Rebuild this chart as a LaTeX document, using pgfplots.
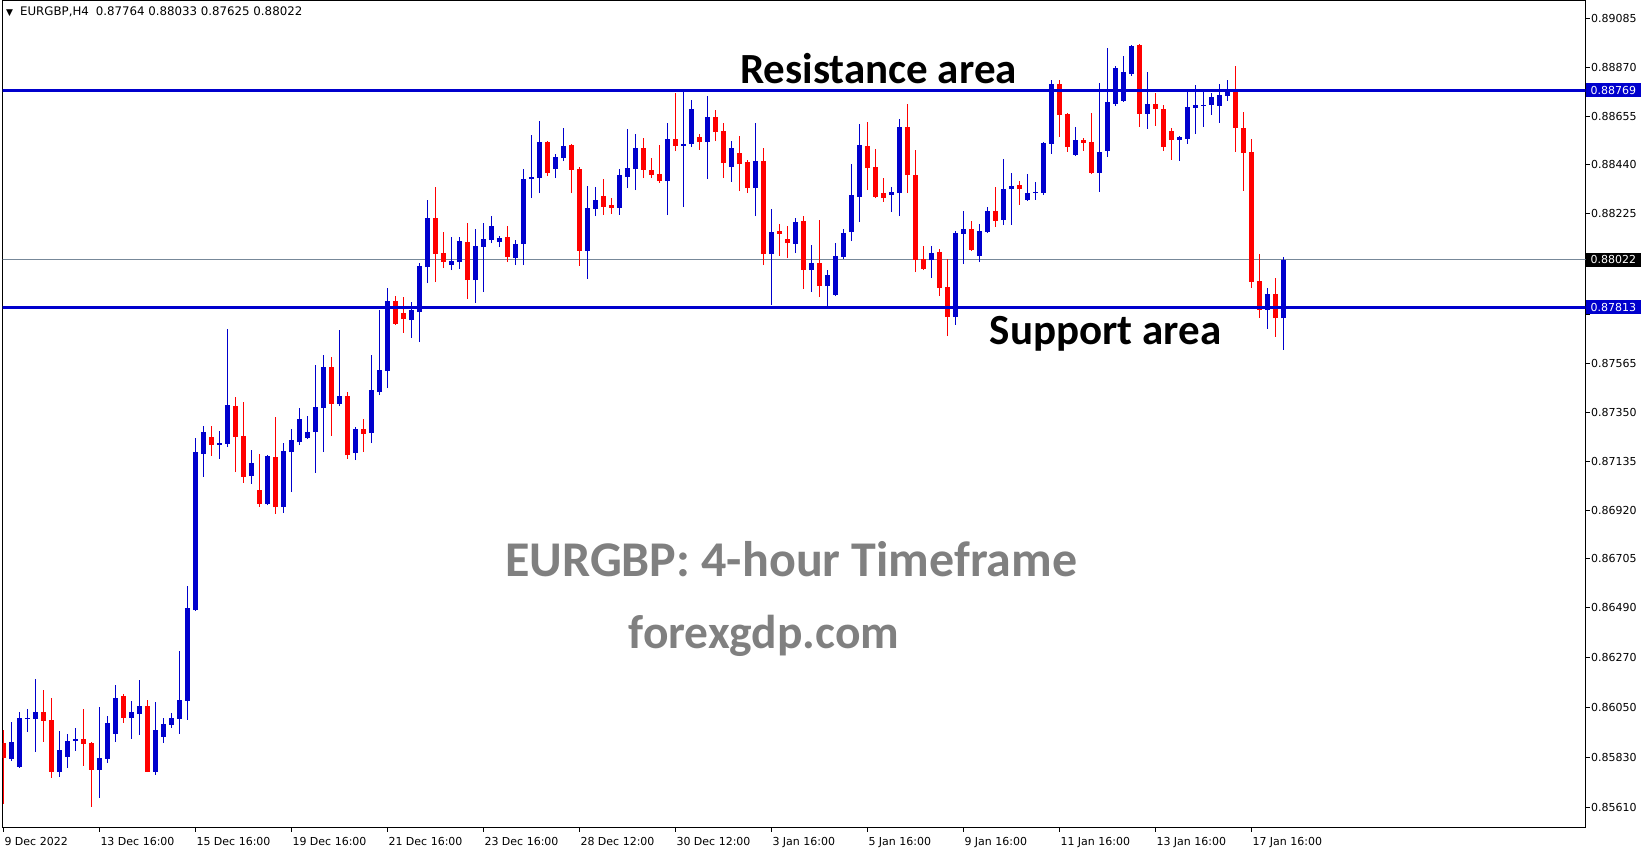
\documentclass[border=0pt]{standalone}
\usepackage{fontspec}
\setmainfont{DejaVu Sans}
\newfontfamily\calibri{Carlito}
\usepackage{pgfplots}
\usepackage{pgfplotstable}
\pgfplotsset{compat=1.18}

\definecolor{mtblue}{RGB}{0,0,205}
\definecolor{mtred}{RGB}{255,0,0}
\definecolor{bidline}{RGB}{119,136,153}
\definecolor{wmgray}{RGB}{128,128,128}

% EURGBP H4 candles: index, open, high, low, close
\pgfplotstableread{
i O H L C
0 0.85892 0.85953 0.85627 0.85826
1 0.85823 0.85986 0.85815 0.85898
2 0.85789 0.86030 0.85785 0.86003
3 0.85999 0.86043 0.85943 0.86003
4 0.86000 0.86175 0.85855 0.86030
5 0.86030 0.86127 0.85899 0.85992
6 0.85995 0.86091 0.85741 0.85767
7 0.85767 0.85946 0.85745 0.85862
8 0.85833 0.85933 0.85785 0.85902
9 0.85904 0.85959 0.85859 0.85911
10 0.85911 0.86043 0.85793 0.85890
11 0.85893 0.85898 0.85613 0.85776
12 0.85776 0.86052 0.85652 0.85827
13 0.85824 0.86012 0.85807 0.85981
14 0.85934 0.86149 0.85899 0.86091
15 0.86100 0.86109 0.85983 0.86005
16 0.86005 0.86078 0.85912 0.86030
17 0.86022 0.86171 0.85930 0.86056
18 0.86056 0.86083 0.85765 0.85767
19 0.85767 0.86074 0.85754 0.85951
20 0.85921 0.86003 0.85895 0.85977
21 0.85974 0.86025 0.85961 0.86003
22 0.86000 0.86299 0.85934 0.86083
23 0.86080 0.86585 0.85995 0.86487
24 0.86479 0.87237 0.86476 0.87175
25 0.87167 0.87290 0.87067 0.87263
26 0.87241 0.87290 0.87159 0.87208
27 0.87208 0.87268 0.87146 0.87215
28 0.87211 0.87717 0.87199 0.87382
29 0.87378 0.87418 0.87087 0.87243
30 0.87246 0.87396 0.87040 0.87067
31 0.87071 0.87184 0.87036 0.87127
32 0.87008 0.87167 0.86935 0.86946
33 0.86946 0.87162 0.86942 0.87158
34 0.87153 0.87330 0.86904 0.86933
35 0.86933 0.87215 0.86908 0.87180
36 0.87175 0.87277 0.86999 0.87228
37 0.87219 0.87369 0.87206 0.87321
38 0.87237 0.87334 0.87233 0.87263
39 0.87263 0.87559 0.87083 0.87374
40 0.87369 0.87603 0.87175 0.87550
41 0.87550 0.87594 0.87246 0.87387
42 0.87387 0.87713 0.87378 0.87422
43 0.87422 0.87440 0.87145 0.87162
44 0.87171 0.87286 0.87140 0.87277
45 0.87277 0.87321 0.87175 0.87255
46 0.87259 0.87603 0.87215 0.87448
47 0.87440 0.87801 0.87426 0.87537
48 0.87532 0.87896 0.87457 0.87840
49 0.87840 0.87863 0.87736 0.87741
50 0.87788 0.87858 0.87701 0.87761
51 0.87757 0.87836 0.87678 0.87801
52 0.87792 0.88008 0.87660 0.87995
53 0.87990 0.88285 0.87920 0.88206
54 0.88206 0.88343 0.87924 0.88048
55 0.88052 0.88144 0.87986 0.88012
56 0.87999 0.88122 0.87977 0.88017
57 0.88012 0.88122 0.87981 0.88105
58 0.88100 0.88184 0.87849 0.87933
59 0.87933 0.88158 0.87832 0.88083
60 0.88078 0.88184 0.87880 0.88114
61 0.88109 0.88215 0.88096 0.88171
62 0.88100 0.88127 0.88078 0.88118
63 0.88122 0.88171 0.88012 0.88034
64 0.88030 0.88109 0.87999 0.88092
65 0.88092 0.88422 0.87999 0.88378
66 0.88378 0.88572 0.88294 0.88387
67 0.88382 0.88633 0.88316 0.88541
68 0.88541 0.88545 0.88391 0.88404
69 0.88422 0.88488 0.88382 0.88475
70 0.88470 0.88603 0.88457 0.88523
71 0.88528 0.88532 0.88316 0.88418
72 0.88422 0.88431 0.87995 0.88061
73 0.88061 0.88347 0.87938 0.88250
74 0.88247 0.88343 0.88215 0.88285
75 0.88303 0.88378 0.88221 0.88256
76 0.88263 0.88294 0.88224 0.88250
77 0.88250 0.88422 0.88221 0.88395
78 0.88387 0.88598 0.88338 0.88426
79 0.88422 0.88576 0.88329 0.88514
80 0.88514 0.88558 0.88382 0.88418
81 0.88418 0.88470 0.88382 0.88395
82 0.88400 0.88528 0.88360 0.88369
83 0.88369 0.88625 0.88219 0.88554
84 0.88554 0.88757 0.88501 0.88523
85 0.88525 0.88761 0.88254 0.88532
86 0.88532 0.88726 0.88519 0.88686
87 0.88563 0.88576 0.88506 0.88541
88 0.88541 0.88744 0.88378 0.88651
89 0.88651 0.88682 0.88545 0.88585
90 0.88589 0.88625 0.88382 0.88448
91 0.88431 0.88545 0.88365 0.88514
92 0.88492 0.88567 0.88325 0.88444
93 0.88453 0.88462 0.88316 0.88338
94 0.88338 0.88625 0.88215 0.88457
95 0.88457 0.88514 0.87999 0.88047
96 0.88047 0.88246 0.87823 0.88144
97 0.88149 0.88180 0.88039 0.88136
98 0.88114 0.88171 0.88030 0.88096
99 0.88092 0.88206 0.88052 0.88188
100 0.88193 0.88215 0.87893 0.87977
101 0.87977 0.88087 0.87880 0.88008
102 0.88008 0.88197 0.87858 0.87906
103 0.87906 0.87977 0.87814 0.87955
104 0.87867 0.88096 0.87862 0.88039
105 0.88034 0.88158 0.88025 0.88140
106 0.88144 0.88444 0.88105 0.88307
107 0.88299 0.88620 0.88188 0.88528
108 0.88523 0.88629 0.88329 0.88426
109 0.88431 0.88510 0.88294 0.88299
110 0.88316 0.88382 0.88277 0.88294
111 0.88307 0.88343 0.88232 0.88321
112 0.88316 0.88642 0.88215 0.88607
113 0.88607 0.88708 0.88316 0.88395
114 0.88395 0.88506 0.87968 0.88021
115 0.88025 0.88083 0.87977 0.87981
116 0.88021 0.88083 0.87942 0.88052
117 0.88056 0.88069 0.87862 0.87898
118 0.87902 0.88025 0.87686 0.87770
119 0.87770 0.88149 0.87735 0.88140
120 0.88136 0.88237 0.88003 0.88158
121 0.88158 0.88193 0.88060 0.88065
122 0.88039 0.88180 0.88012 0.88149
123 0.88144 0.88254 0.88140 0.88237
124 0.88237 0.88344 0.88166 0.88194
125 0.88197 0.88466 0.88175 0.88334
126 0.88332 0.88405 0.88176 0.88348
127 0.88352 0.88370 0.88264 0.88332
128 0.88286 0.88401 0.88282 0.88317
129 0.88317 0.88365 0.88286 0.88321
130 0.88317 0.88542 0.88308 0.88537
131 0.88533 0.88815 0.88489 0.88797
132 0.88797 0.88815 0.88564 0.88661
133 0.88665 0.88669 0.88498 0.88520
134 0.88484 0.88608 0.88480 0.88550
135 0.88550 0.88559 0.88502 0.88537
136 0.88542 0.88669 0.88400 0.88405
137 0.88405 0.88802 0.88321 0.88498
138 0.88502 0.88956 0.88476 0.88718
139 0.88709 0.88876 0.88700 0.88868
140 0.88722 0.88921 0.88718 0.88850
141 0.88841 0.88969 0.88832 0.88965
142 0.88969 0.88973 0.88608 0.88665
143 0.88665 0.88850 0.88599 0.88709
144 0.88709 0.88758 0.88612 0.88687
145 0.88687 0.88705 0.88502 0.88520
146 0.88590 0.88603 0.88462 0.88550
147 0.88550 0.88568 0.88458 0.88564
148 0.88555 0.88771 0.88533 0.88696
149 0.88691 0.88793 0.88577 0.88705
150 0.88702 0.88771 0.88608 0.88706
151 0.88705 0.88758 0.88661 0.88740
152 0.88700 0.88797 0.88625 0.88749
153 0.88744 0.88815 0.88722 0.88771
154 0.88771 0.88876 0.88498 0.88603
155 0.88603 0.88674 0.88326 0.88493
156 0.88498 0.88555 0.87898 0.87925
157 0.87929 0.88048 0.87766 0.87802
158 0.87802 0.87898 0.87718 0.87872
159 0.87872 0.87942 0.87683 0.87764
160 0.87764 0.88033 0.87625 0.88022
}\candles

\begin{document}
\begin{tikzpicture}
\path[use as bounding box] (0pt,0pt) rectangle (1649pt,850pt);
\begin{axis}[
    at={(2.7pt,22pt)}, anchor=south west,
    scale only axis,
    width=1582.8pt, height=827pt,
    xmin=-0.075, xmax=197.775,
    ymin=0.855191, ymax=0.891624,
    axis line style={black, line width=1pt},
    tick align=outside,
    major tick length=4pt,
    tick style={black, line width=1pt},
    xtick pos=left, ytick pos=right,
    yticklabel pos=right,
    xtick={0,12,24,36,48,60,72,84,96,108,120,132,144,156},
    xticklabels={9 Dec 2022, 13 Dec 16:00, 15 Dec 16:00, 19 Dec 16:00,
      21 Dec 16:00, 23 Dec 16:00, 28 Dec 12:00, 30 Dec 12:00, 3 Jan 16:00,
      5 Jan 16:00, 9 Jan 16:00, 11 Jan 16:00, 13 Jan 16:00, 17 Jan 16:00},
    ytick={0.85610,0.85830,0.86050,0.86270,0.86490,0.86705,0.86920,0.87135,
      0.87350,0.87565,0.87780,0.87995,0.88225,0.88440,0.88655,0.88870,0.89085},
    yticklabels={0.85610,0.85830,0.86050,0.86270,0.86490,0.86705,0.86920,0.87135,
      0.87350,0.87565,{},{},0.88225,0.88440,0.88655,0.88870,0.89085},
    tick label style={font=\fontsize{11}{13}\selectfont, inner sep=0pt},
    x tick label style={anchor=north west, xshift=1pt, yshift=-5pt},
    y tick label style={anchor=west, xshift=1.5pt},
]
% bid line
\addplot[bidline, line width=1pt] coordinates {(-1,0.88022) (199,0.88022)};

% bullish candles
\addplot[draw=none, restrict expr to domain={\thisrow{C}-\thisrow{O}}{0:1},
    error bars/.cd, y dir=plus, y explicit, error mark=none,
    error bar style={draw=mtblue, line width=1pt}]
  table[x=i, y=L, y error plus expr={\thisrow{H}-\thisrow{L}}] {\candles};
\addplot[draw=none, restrict expr to domain={\thisrow{C}-\thisrow{O}}{0:1},
    error bars/.cd, y dir=plus, y explicit, error mark=none,
    error bar style={draw=mtblue, line width=5pt}]
  table[x=i, y=O, y error plus expr={\thisrow{C}-\thisrow{O}}] {\candles};

% bearish candles
\addplot[draw=none, restrict expr to domain={\thisrow{C}-\thisrow{O}}{-1:0},
    error bars/.cd, y dir=plus, y explicit, error mark=none,
    error bar style={draw=mtred, line width=1pt}]
  table[x=i, y=L, y error plus expr={\thisrow{H}-\thisrow{L}}] {\candles};
\addplot[draw=none, restrict expr to domain={\thisrow{C}-\thisrow{O}}{-1:0},
    error bars/.cd, y dir=plus, y explicit, error mark=none,
    error bar style={draw=mtred, line width=5pt}]
  table[x=i, y=C, y error plus expr={\thisrow{O}-\thisrow{C}}] {\candles};

% resistance and support
\addplot[mtblue, line width=3pt] coordinates {(-1,0.88769) (199,0.88769)};
\addplot[mtblue, line width=3pt] coordinates {(-1,0.87813) (199,0.87813)};

\node[anchor=base, font=\calibri\bfseries\fontsize{43}{50}\selectfont]
  at (axis cs:109.4,0.88800) {Resistance area};
\node[anchor=base, font=\calibri\bfseries\fontsize{43}{50}\selectfont]
  at (axis cs:137.8,0.87647) {Support area};
\node[anchor=base, text=wmgray, font=\calibri\bfseries\fontsize{50}{58}\selectfont]
  at (axis cs:98.5,0.86628) {EURGBP: 4-hour Timeframe};
\node[anchor=base, text=wmgray, font=\calibri\bfseries\fontsize{47.5}{55}\selectfont]
  at (axis cs:95.1,0.86308) {forexgdp.com};

\coordinate (res) at (axis cs:197.775,0.88769);
\coordinate (bid) at (axis cs:197.775,0.88022);
\coordinate (sup) at (axis cs:197.775,0.87813);
\end{axis}

\tikzset{pricebox/.style={anchor=west, text=white, inner xsep=4.5pt, inner ysep=3pt,
  font=\fontsize{11}{13}\selectfont}}
\node[pricebox, fill=mtblue] at ([xshift=0.5pt]res) {0.88769};
\node[pricebox, fill=black] at ([xshift=0.5pt]bid) {0.88022};
\node[pricebox, fill=mtblue] at ([xshift=0.5pt]sup) {0.87813};

\node[anchor=west, inner sep=0pt] at (6pt,838pt)
  {{\fontsize{9}{9}\selectfont ▼}\hspace{7pt}{\fontsize{11.8}{14}\selectfont EURGBP,H4\hspace{7pt}0.87764 0.88033 0.87625 0.88022}};
\end{tikzpicture}
\end{document}
